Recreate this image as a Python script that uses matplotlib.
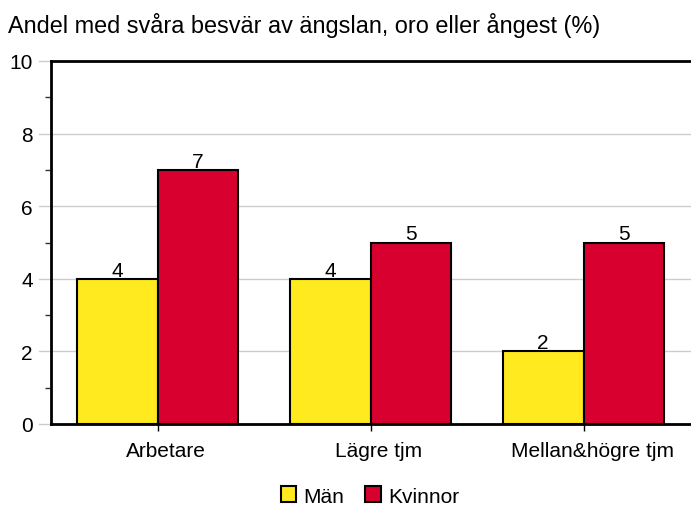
import matplotlib
matplotlib.use("Agg")
import matplotlib.pyplot as plt
import numpy as np
from matplotlib.ticker import MultipleLocator

categories = ["Arbetare", "Lägre tjm", "Mellan&högre tjm"]
man = [4, 4, 2]
kvinnor = [7, 5, 5]
series_names = ["Män", "Kvinnor"]

plt.rcParams["font.family"] = ["Liberation Sans", "DejaVu Sans"]
fs = 15

fig = plt.figure(figsize=(6.91, 5.10), dpi=100)
ax = fig.add_axes([51 / 691, 85 / 510, 639 / 691, 363 / 510])

x = np.arange(len(categories))
w = 0.38
yellow = "#FFEA1F"
red = "#D8002F"
b1 = ax.bar(x - w / 2, man, w, color=yellow, edgecolor="black", linewidth=1.5,
            label=series_names[0], zorder=3)
b2 = ax.bar(x + w / 2, kvinnor, w, color=red, edgecolor="black", linewidth=1.5,
            label=series_names[1], zorder=3)
for bars in (b1, b2):
    for rect in bars:
        ax.text(rect.get_x() + rect.get_width() / 2, rect.get_height() - 0.02,
                f"{rect.get_height():g}", ha="center", va="bottom",
                fontsize=fs, zorder=4)

ax.set_xlim(-0.5, 2.5)
ax.set_ylim(0, 10)
# tick marks at the group centres, labels sit a little to the right
ax.set_xticks(x)
ax.set_xticklabels([])
ax.set_xticks(x + 0.04, minor=True)
ax.set_xticklabels(categories, minor=True, fontsize=fs)
ax.tick_params(axis="x", which="major", length=5, width=1)
ax.tick_params(axis="x", which="minor", length=0, pad=12)

ax.yaxis.set_major_locator(MultipleLocator(2))
ax.yaxis.set_minor_locator(MultipleLocator(1))
ax.tick_params(axis="y", which="major", length=0, labelsize=fs, pad=13)
ax.tick_params(axis="y", which="minor", length=4, width=1, color="#333333")

for v in [0, 2, 4, 6, 8]:
    ax.axhline(v, color="#cccccc", linewidth=1, zorder=1, clip_on=False,
               xmin=-12 / 639, xmax=1.0)
ax.axhline(10, color="#cccccc", linewidth=1, zorder=1, clip_on=False,
           xmin=-12 / 639, xmax=0)

for side in ("left", "bottom", "top"):
    ax.spines[side].set_linewidth(2)
    ax.spines[side].set_color("black")
ax.spines["right"].set_visible(False)

fig.text(8 / 691, 1 - 25 / 510, "Andel med svåra besvär av ängslan, oro eller ångest (%)",
         fontsize=16.9, va="center", ha="left")

fig.legend(handles=[b1, b2], labels=series_names, loc="center",
           bbox_to_anchor=(370 / 691, 1 - 497 / 510), ncol=2, frameon=False,
           fontsize=fs, handlelength=0.75, handleheight=0.8, handletextpad=0.35,
           columnspacing=1.0)

fig.savefig("out.png", dpi=100)
